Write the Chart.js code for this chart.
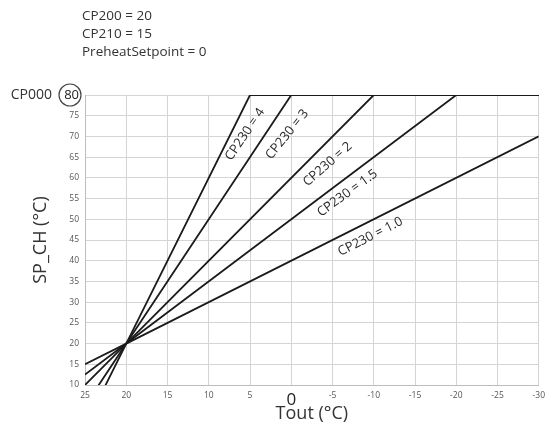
<!DOCTYPE html>
<html>
<head>
<meta charset="utf-8">
<script src="https://cdn.jsdelivr.net/npm/chart.js@4.4.1/dist/chart.umd.min.js"></script>
<style>
  html, body { margin: 0; padding: 0; background: #fff; }
  #wrap { width: 550px; height: 426px; }
</style>
</head>
<body>
<div id="wrap"><canvas id="curve"></canvas></div>
<script>
// parametri riportati sopra il grafico
const notes = ["CP200 = 20", "CP210 = 15", "PreheatSetpoint = 0"];

// curve climatiche: Tout -> SP_CH, una per ogni CP230
const curveNames = ["CP230 = 4", "CP230 = 3", "CP230 = 2", "CP230 = 1.5", "CP230 = 1.0"];
const curveTout = [
  [25, 20, 5, -30],
  [25, 20, 0, -30],
  [25, 20, -10, -30],
  [25, 20, -20, -30],
  [25, 20, -30]
];
const curveSP = [
  [0, 20, 80, 80],
  [5, 20, 80, 80],
  [10, 20, 80, 80],
  [12.5, 20, 80, 80],
  [15, 20, 70]
];

// assi
const toutMin = -30, toutMax = 25;
const spMin = 10, spMax = 80;
const cp000 = 80;

// dove scrivere le etichette delle curve (coordinate dati + angolo)
const labelPos = [
  { x: 5.6, y: 70.5, a: -56 },
  { x: 0.5, y: 70.5, a: -51 },
  { x: -4.4, y: 63.3, a: -41 },
  { x: -6.8, y: 56.3, a: -36 },
  { x: -9.6, y: 45.8, a: -27 }
];

const datasets = curveNames.map((name, i) => ({
  label: name,
  data: curveTout[i].map((t, j) => ({ x: t, y: curveSP[i][j] })),
  borderColor: "#1b1b1b",
  borderWidth: 1.8,
  pointRadius: 0,
  tension: 0,
  fill: false
}));

const isTick = (ctx, v) => ctx.tick && ctx.tick.value === v;

const extras = {
  id: "extras",
  afterDraw(chart) {
    const ctx = chart.ctx;
    const xs = chart.scales.x, ys = chart.scales.y;
    ctx.save();
    ctx.fillStyle = "#333";
    ctx.font = "13.5px 'Open Sans'";
    ctx.textBaseline = "middle";
    ctx.textAlign = "left";
    notes.forEach((n, i) => ctx.fillText(n, 82, 16 + i * 18));

    // CP000 con il cerchio intorno all'80
    const y80 = ys.getPixelForValue(cp000);
    ctx.font = "14px 'Open Sans'";
    ctx.textAlign = "right";
    ctx.fillText("CP000", 52, y80);
    ctx.beginPath();
    ctx.strokeStyle = "#444";
    ctx.lineWidth = 1.2;
    ctx.arc(70, y80, 11, 0, Math.PI * 2);
    ctx.stroke();

    // etichette curve
    ctx.font = "13px 'Open Sans'";
    ctx.textAlign = "center";
    ctx.fillStyle = "#2a2a2a";
    labelPos.forEach((p, i) => {
      ctx.save();
      ctx.translate(xs.getPixelForValue(p.x), ys.getPixelForValue(p.y));
      ctx.rotate(p.a * Math.PI / 180);
      ctx.fillText(curveNames[i], 0, 0);
      ctx.restore();
    });
    ctx.restore();
  }
};

new Chart(document.getElementById("curve"), {
  type: "line",
  data: { datasets: datasets },
  plugins: [extras],
  options: {
    responsive: true,
    maintainAspectRatio: false,
    animation: false,
    layout: { padding: { top: 95, right: 7, left: 0, bottom: 0 } },
    plugins: { legend: { display: false }, tooltip: { enabled: false } },
    scales: {
      x: {
        type: "linear",
        reverse: true,
        min: toutMin,
        max: toutMax,
        afterFit(scale) { scale.height = 41; },
        ticks: {
          stepSize: 5,
          maxRotation: 0,
          padding: 5,
          color: ctx => isTick(ctx, 0) ? "#222" : "#555",
          font: ctx => isTick(ctx, 0) ? { size: 17, family: "Open Sans" } : { size: 8.5, family: "Open Sans" }
        },
        grid: { color: "#d4d4d4", drawTicks: false },
        border: { color: "#bdbdbd" },
        title: { display: true, text: "Tout (°C)", color: "#333", font: { size: 18, family: "Open Sans" }, padding: { top: 0, bottom: 1 } }
      },
      y: {
        min: spMin,
        max: spMax,
        afterFit(scale) { scale.width = 85; },
        ticks: {
          stepSize: 5,
          padding: 6,
          color: ctx => isTick(ctx, cp000) ? "#222" : "#555",
          font: ctx => isTick(ctx, cp000) ? { size: 13, family: "Open Sans" } : { size: 8.5, family: "Open Sans" }
        },
        grid: { color: "#d4d4d4", drawTicks: false },
        border: { color: "#bdbdbd" },
        title: { display: true, text: "SP_CH (°C)", color: "#333", font: { size: 18, family: "Open Sans" }, padding: { top: 30, bottom: 0 } }
      }
    }
  }
});
</script>
</body>
</html>
